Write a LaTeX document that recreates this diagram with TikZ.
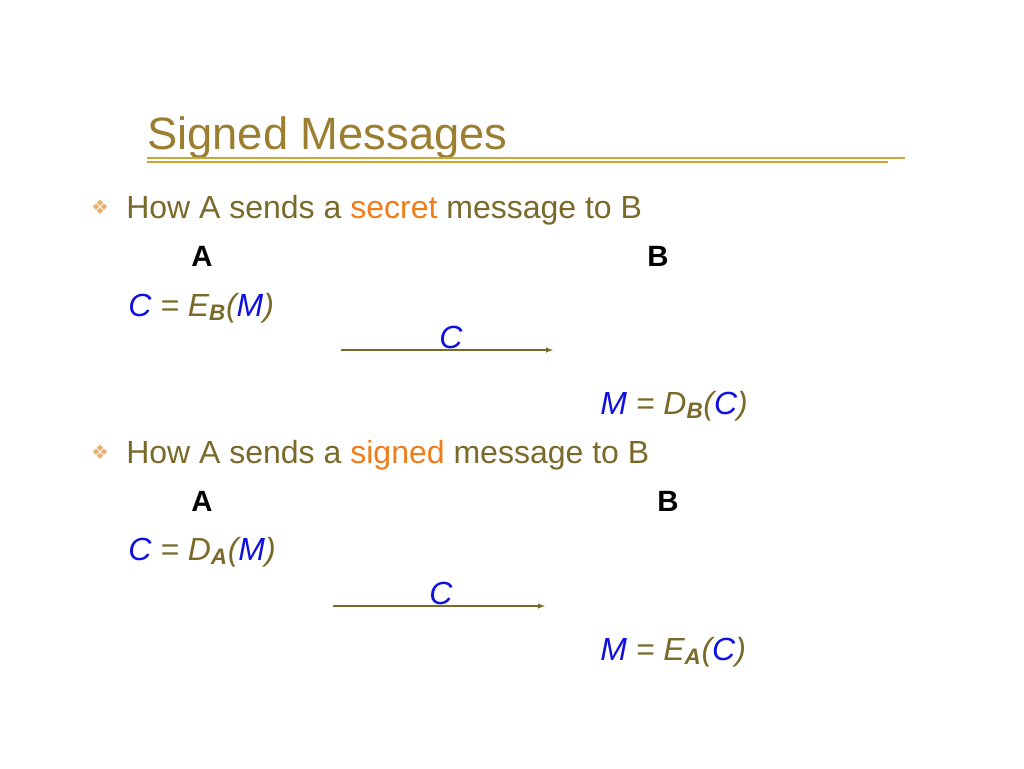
\documentclass[tikz,border=0pt]{standalone}
\usepackage{fontspec}
\setmainfont{Liberation Sans}
\newfontfamily\dingfont{DejaVu Sans}
\usetikzlibrary{positioning}
\definecolor{olive}{HTML}{7A6A2A}
\definecolor{gold}{HTML}{9C7E30}
\definecolor{rulegold}{HTML}{C9A838}
\definecolor{hilite}{HTML}{F07D1A}
\definecolor{bulletc}{HTML}{E8B070}
\definecolor{vblue}{HTML}{1010E0}
\newcommand{\vb}[1]{\textcolor{vblue}{#1}}
\newcommand{\keysub}[1]{\textsubscript{\textbf{#1}}}

\begin{document}
\begin{tikzpicture}[x=0.75pt,y=-0.75pt,
  txt/.style={anchor=base west, inner sep=0pt, text=olive, font=\fontsize{24}{28}\selectfont},
  party/.style={anchor=base, inner sep=0pt, font=\fontsize{22}{26}\selectfont\bfseries},
  eqn/.style={txt, font=\fontsize{24}{28}\selectfont\itshape},
  bul/.style={anchor=base, inner sep=0pt, text=bulletc, font=\dingfont\fontsize{15}{18}\selectfont},
  msg/.style={-latex, olive, thick}]
\useasboundingbox (0,0) rectangle (1024,768);

% title
\node [anchor=base west, inner sep=0pt, text=gold, font=\fontsize{34}{40}\selectfont] (title) at (147,149) {Signed Messages};
\draw [rulegold, line width=1pt] (147,158) -- (905,158);
\draw [rulegold, line width=1pt] (147,162) -- (888,162);

% secret message
\node [bul] (b1) at (100,214) {❖};
\node [txt] (s1) at (126,218) {How A sends a \textcolor{hilite}{secret} message to B};
\node [party] (a1) at (202,266) {A};
\node [party] (r1) at (658,266) {B};
\node [eqn] (e1) at (128,316) {\vb{C} = E\keysub{B}(\vb{M})};
\coordinate (p1) at (341,350);
\coordinate (q1) at (553,350);
\draw [msg] (p1) -- (q1);
\node [eqn, anchor=base] (c1) at (451,348) {\vb{C}};
\node [eqn] (d1) at (600,414) {\vb{M} = D\keysub{B}(\vb{C})};

% signed message
\node [bul] (b2) at (100,459) {❖};
\node [txt] (s2) at (126,463) {How A sends a \textcolor{hilite}{signed} message to B};
\node [party] (a2) at (202,511) {A};
\node [party] (r2) at (668,511) {B};
\node [eqn] (e2) at (128,560) {\vb{C} = D\keysub{A}(\vb{M})};
\coordinate (p2) at (333,606);
\coordinate (q2) at (545,606);
\draw [msg] (p2) -- (q2);
\node [eqn, anchor=base] (c2) at (441,604) {\vb{C}};
\node [eqn] (d2) at (600,660) {\vb{M} = E\keysub{A}(\vb{C})};
\end{tikzpicture}
\end{document}
